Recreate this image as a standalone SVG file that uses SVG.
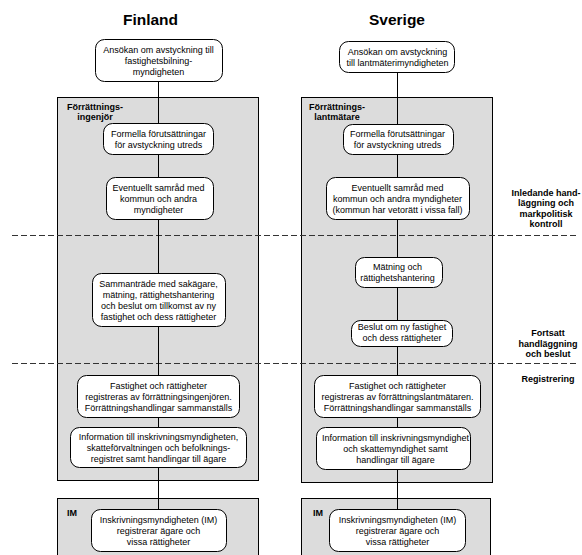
<svg xmlns="http://www.w3.org/2000/svg" width="582" height="555" viewBox="0 0 582 555">
<style>
.title{font-family:"Liberation Sans",Arial,sans-serif;font-size:15.5px;font-weight:bold;fill:#000;text-anchor:middle}
.panel{fill:#dcdcdc;stroke:#000;stroke-width:1}
.plabel{font-family:"Liberation Sans",Arial,sans-serif;font-size:9px;font-weight:bold;fill:#000;text-anchor:middle}
.node rect{fill:#fff;stroke:#000;stroke-width:1}
.node text{font-family:"Liberation Sans",Arial,sans-serif;font-size:9px;fill:#000;text-anchor:middle}
.conn line{stroke:#000;stroke-width:1}
.dash{stroke:#333;stroke-width:1;stroke-dasharray:6 3}
.side{font-family:"Liberation Sans",Arial,sans-serif;font-size:9px;font-weight:bold;fill:#000;text-anchor:middle}
</style>
<rect width="582" height="555" fill="#fff"/>
<text class="title" x="150.5" y="25">Finland</text>
<text class="title" x="397" y="25">Sverige</text>

<g id="panel-fi">
<rect class="panel" x="57.5" y="97.5" width="201" height="383"/>
<text class="plabel" x="95" y="110">Förrättnings-</text>
<text class="plabel" x="95" y="120">ingenjör</text>
</g>
<g id="panel-se">
<rect class="panel" x="301.5" y="97.5" width="191" height="385"/>
<text class="plabel" x="337" y="110">Förrättnings-</text>
<text class="plabel" x="337" y="120">lantmätare</text>
</g>
<g id="panel-im-fi">
<rect class="panel" x="57.5" y="498.5" width="201" height="70"/>
<text class="plabel" x="72" y="516">IM</text>
</g>
<g id="panel-im-se">
<rect class="panel" x="301.5" y="498.5" width="189" height="70"/>
<text class="plabel" x="318" y="516">IM</text>
</g>

<line class="dash" x1="12" y1="235.5" x2="576" y2="235.5"/>
<line class="dash" x1="12" y1="363.5" x2="576" y2="363.5"/>

<g id="connectors" class="conn">
<line x1="158.5" y1="81" x2="158.5" y2="123"/>
<line x1="158.5" y1="154" x2="158.5" y2="177"/>
<line x1="158.5" y1="219" x2="158.5" y2="273"/>
<line x1="158.5" y1="326" x2="158.5" y2="375"/>
<line x1="158.5" y1="417" x2="158.5" y2="427"/>
<line x1="158.5" y1="467" x2="158.5" y2="509"/>
<line x1="397.5" y1="72" x2="397.5" y2="124"/>
<line x1="397.5" y1="154" x2="397.5" y2="177"/>
<line x1="397.5" y1="219" x2="397.5" y2="257"/>
<line x1="397.5" y1="287" x2="397.5" y2="320"/>
<line x1="397.5" y1="346" x2="397.5" y2="375"/>
<line x1="397.5" y1="417" x2="397.5" y2="427"/>
<line x1="397.5" y1="469" x2="397.5" y2="509"/>
</g>

<g id="fi1" class="node"><rect x="95.5" y="39.5" width="127" height="42" rx="9"/>
<text x="158.5" y="52.5">Ansökan om avstyckning till</text><text x="158.5" y="63.5">fastighetsbilning-</text><text x="158.5" y="74.5">myndigheten</text></g>
<g id="fi2" class="node"><rect x="103.5" y="123.5" width="110" height="31" rx="9"/>
<text x="158.5" y="136.5">Formella förutsättningar</text><text x="158.5" y="147.5">för avstyckning utreds</text></g>
<g id="fi3" class="node"><rect x="106.5" y="177.5" width="107" height="42" rx="9"/>
<text x="158.5" y="190.5">Eventuellt samråd med</text><text x="158.5" y="201.5">kommun och andra</text><text x="158.5" y="212.5">myndigheter</text></g>
<g id="fi4" class="node"><rect x="92.5" y="273.5" width="133" height="53" rx="9"/>
<text x="158.5" y="286.5">Sammanträde med sakägare,</text><text x="158.5" y="297.5">mätning, rättighetshantering</text><text x="158.5" y="308.5">och beslut om tillkomst av ny</text><text x="158.5" y="319.5">fastighet och dess rättigheter</text></g>
<g id="fi5" class="node"><rect x="77.5" y="375.5" width="162" height="42" rx="9"/>
<text x="158.5" y="388.5">Fastighet och rättigheter</text><text x="158.5" y="399.5">registreras av förrättningsingenjören.</text><text x="158.5" y="410.5">Förrättningshandlingar sammanställs</text></g>
<g id="fi6" class="node"><rect x="70.5" y="427.5" width="176" height="40" rx="9"/>
<text x="158.5" y="440">Information till inskrivningsmyndigheten,</text><text x="158.5" y="451">skatteförvaltningen och befolknings-</text><text x="158.5" y="462">registret samt handlingar till ägare</text></g>
<g id="fi7" class="node"><rect x="91.5" y="509.5" width="135" height="42" rx="9"/>
<text x="158.5" y="522.5">Inskrivningsmyndigheten (IM)</text><text x="158.5" y="533.5">registrerar ägare och</text><text x="158.5" y="544.5">vissa rättigheter</text></g>

<g id="se1" class="node"><rect x="339.5" y="41.5" width="115" height="31" rx="9"/>
<text x="397.5" y="54.5">Ansökan om avstyckning</text><text x="397.5" y="65.5">till lantmäterimyndigheten</text></g>
<g id="se2" class="node"><rect x="343.5" y="124.5" width="110" height="30" rx="9"/>
<text x="397.5" y="136.5">Formella förutsättningar</text><text x="397.5" y="147.5">för avstyckning utreds</text></g>
<g id="se3" class="node"><rect x="326.5" y="177.5" width="143" height="42" rx="9"/>
<text x="397.5" y="190.5">Eventuellt samråd med</text><text x="397.5" y="201.5">kommun och andra myndigheter</text><text x="397.5" y="212.5">(kommun har vetorätt i vissa fall)</text></g>
<g id="se4" class="node"><rect x="355.5" y="257.5" width="87" height="30" rx="9"/>
<text x="397.5" y="270">Mätning och</text><text x="397.5" y="281">rättighetshantering</text></g>
<g id="se5" class="node"><rect x="351.5" y="320.5" width="101" height="26" rx="9"/>
<text x="402" y="329.5">Beslut om ny fastighet</text><text x="402" y="340.5">och dess rättigheter</text></g>
<g id="se6" class="node"><rect x="314.5" y="375.5" width="166" height="42" rx="9"/>
<text x="397.5" y="388.5">Fastighet och rättigheter</text><text x="397.5" y="399.5">registreras av förrättningslantmätaren.</text><text x="397.5" y="410.5">Förrättningshandlingar sammanställs</text></g>
<g id="se7" class="node"><rect x="316.5" y="427.5" width="154" height="42" rx="9"/>
<text x="395.5" y="441">Information till inskrivningsmyndighet</text><text x="395.5" y="452">och skattemyndighet samt</text><text x="395.5" y="463">handlingar till ägare</text></g>
<g id="se8" class="node"><rect x="329.5" y="509.5" width="136" height="42" rx="9"/>
<text x="397.5" y="522.5">Inskrivningsmyndigheten (IM)</text><text x="397.5" y="533.5">registrerar ägare och</text><text x="397.5" y="544.5">vissa rättigheter</text></g>

<g id="phase-labels">
<text class="side" x="546" y="195.5">Inledande hand-</text>
<text class="side" x="546" y="206">läggning och</text>
<text class="side" x="546" y="216.5">markpolitisk</text>
<text class="side" x="546" y="227">kontroll</text>
<text class="side" x="548" y="336">Fortsatt</text>
<text class="side" x="548" y="346.5">handläggning</text>
<text class="side" x="548" y="357">och beslut</text>
<text class="side" x="548" y="381.5">Registrering</text>
</g>
</svg>
